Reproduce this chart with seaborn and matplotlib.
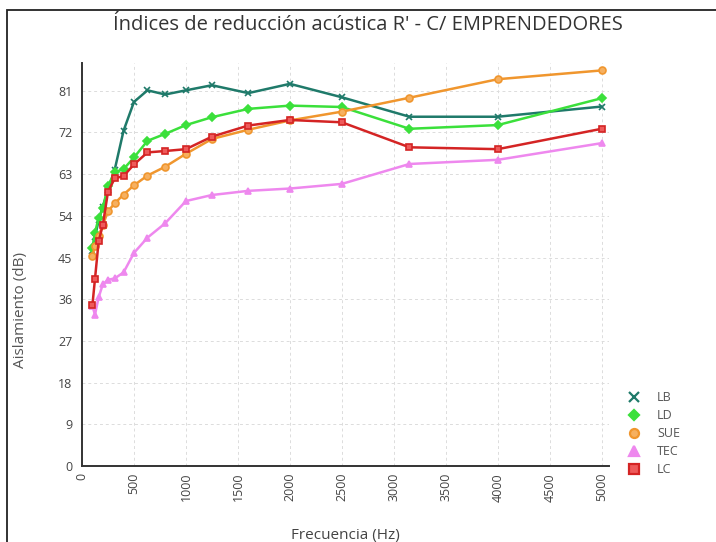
import matplotlib
matplotlib.use("Agg")
import matplotlib.pyplot as plt
import seaborn as sns
import pandas as pd
from matplotlib.patches import Rectangle
from matplotlib.lines import Line2D

freqs = [100, 125, 160, 200, 250, 315, 400, 500, 630, 800, 1000, 1250, 1600, 2000, 2500, 3150, 4000, 5000]
lb = [46.5, 49.5, 53.0, 56.0, 59.5, 64.0, 72.4, 78.6, 81.1, 80.2, 81.1, 82.2, 80.5, 82.5, 79.6, 75.4, 75.4, 77.6]
ld = [47.1, 50.4, 53.5, 55.6, 60.5, 63.4, 64.1, 66.6, 70.2, 71.7, 73.6, 75.3, 77.1, 77.8, 77.5, 72.8, 73.6, 79.4]
sue = [45.3, 47.5, 49.7, 52.0, 55.0, 56.7, 58.6, 60.6, 62.7, 64.6, 67.4, 70.6, 72.6, 74.6, 76.5, 79.5, 83.5, 85.4]
tec = [34.5, 32.7, 36.4, 39.2, 40.2, 40.5, 41.8, 46.0, 49.3, 52.4, 57.2, 58.5, 59.4, 59.9, 60.9, 65.2, 66.1, 69.7]
lc = [34.7, 40.4, 48.5, 52.0, 59.2, 62.1, 62.6, 65.1, 67.7, 68.0, 68.4, 71.1, 73.5, 74.7, 74.2, 68.8, 68.4, 72.8]

series_names = ["LB", "LD", "SUE", "TEC", "LC"]
series_values = [lb, ld, sue, tec, lc]
line_colors = ["#1f7a6a", "#3be03b", "#f0962e", "#ee88ee", "#d42424"]
face_colors = ["#1f7a6a", "#3be03b", "#f6b060", "#ee88ee", "#ee5a5a"]
markers = ["x", "D", "o", "^", "s"]
msizes = [5, 4, 5, 5, 5]

title = "Índices de reducción acústica R' - C/ EMPRENDEDORES"
xlabel = "Frecuencia (Hz)"
ylabel = "Aislamiento (dB)"
xticks = [0, 500, 1000, 1500, 2000, 2500, 3000, 3500, 4000, 4500, 5000]
yticks = [0, 9, 18, 27, 36, 45, 54, 63, 72, 81]

sns.set_theme(style="white")
plt.rcParams["font.family"] = ["Open Sans", "DejaVu Sans"]

fig = plt.figure(figsize=(7.16, 5.42), dpi=100)
ax = fig.add_axes([82/716, 1-466/542, (609-82)/716, (466-63)/542])

df = pd.DataFrame({
    "f": freqs * len(series_names),
    "v": sum(series_values, []),
    "s": sum([[n] * len(freqs) for n in series_names], []),
})

handles = []
for name, col, fc, mk, ms in zip(series_names, line_colors, face_colors, markers, msizes):
    sub = df[df["s"] == name]
    sns.lineplot(data=sub, x="f", y="v", ax=ax, color=col, linewidth=1.8,
                 marker=mk, markersize=ms, markerfacecolor=fc, markeredgecolor=col,
                 markeredgewidth=1.2, legend=False)
    handles.append(Line2D([], [], linestyle="none", marker=mk,
                          markersize=5.5 if mk == "D" else 6.5,
                          markerfacecolor=fc, markeredgecolor=col, markeredgewidth=1.6, label=name))

ax.set_xlim(0, 5070)
ax.set_ylim(0, 87)
ax.set_xticks(xticks)
ax.set_yticks(yticks)
ax.set_xticklabels([str(t) for t in xticks], rotation=90, fontsize=9, color="#444444")
ax.set_yticklabels([str(t) for t in yticks], fontsize=9, color="#444444")
ax.tick_params(axis="both", which="both", length=4, width=0.8, color="#999999", pad=3)
ax.tick_params(axis="x", length=0, pad=5)
ax.grid(True, linestyle=(0, (3, 3)), color="#dcdcdc", linewidth=0.7)
for sp in ["top", "right"]:
    ax.spines[sp].set_visible(False)
for sp in ["left", "bottom"]:
    ax.spines[sp].set_color("#333333")
    ax.spines[sp].set_linewidth(1.4)

ax.set_xlabel(xlabel, fontsize=11, color="#444444")
ax.set_ylabel(ylabel, fontsize=11, color="#555555")
ax.xaxis.set_label_coords(0.5, (466-536)/403, transform=ax.transAxes)
ax.yaxis.set_label_coords((28-82)/527, (466-310)/403)
ax.xaxis.label.set_va("center")

fig.text(368/716, 1-25/542, title, ha="center", va="center", fontsize=14.5, color="#333333")

fig.legend(handles=handles, loc="upper left", bbox_to_anchor=(616/716, 1-380/542),
           frameon=False, fontsize=9, handletextpad=1.4, labelspacing=0.4,
           handlelength=1.0, labelcolor="#555555")

fig.add_artist(Rectangle((7/716, -0.2), 1.5, 1.2 - 10/542, transform=fig.transFigure,
                         fill=False, edgecolor="#222222", linewidth=1.3, clip_on=False))

fig.savefig("out.png", dpi=100)
